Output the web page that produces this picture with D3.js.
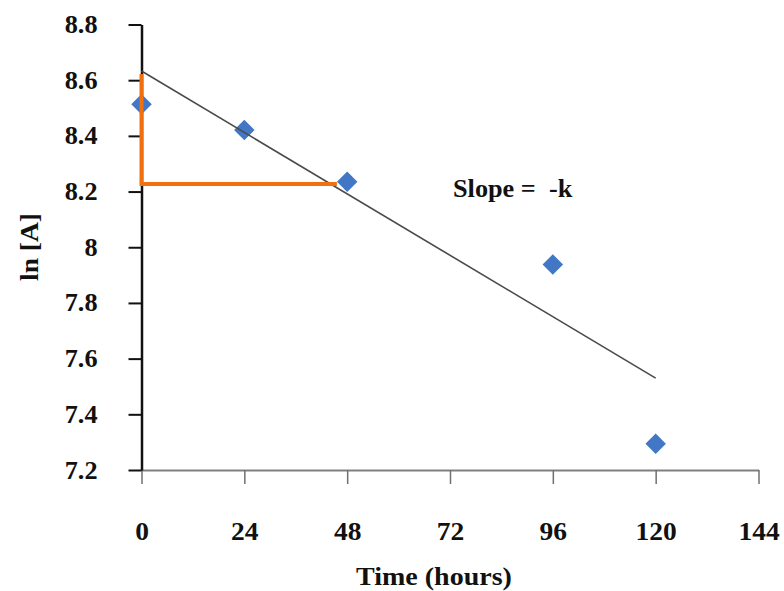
<!DOCTYPE html>
<html><head><meta charset="utf-8">
<script src="https://cdn.jsdelivr.net/npm/d3@7"></script>
<style>
html,body{margin:0;padding:0;background:#fff;}
text{font-family:"Liberation Serif","Times New Roman",serif;font-weight:bold;fill:#111;}
</style></head>
<body>
<svg id="c" width="784" height="591"></svg>
<script>
// Data
const hours = [0, 24, 48, 96, 120];
const lnA = [8.514, 8.421, 8.235, 7.938, 7.294];
const trendHours = [0, 120];
const trendLnA = [8.633, 7.530];
const triangleHours = [0, 0, 45.6];
const triangleLnA = [8.622, 8.227, 8.227];
const xTicks = [0, 24, 48, 72, 96, 120, 144];
const yTicks = [7.2, 7.4, 7.6, 7.8, 8.0, 8.2, 8.4, 8.6, 8.8];
const yTickLabels = ["7.2", "7.4", "7.6", "7.8", "8", "8.2", "8.4", "8.6", "8.8"];
const xTitle = "Time (hours)";
const yTitle = "ln [A]";
const note = "Slope =  -k";

const svg = d3.select("#c");
const L = 141.5, R = 758.5, T = 24.5, B = 470;
const x = d3.scaleLinear().domain([0, 144]).range([L, R]);
const y = d3.scaleLinear().domain([7.2, 8.8]).range([B, T]);

function stretch(sel, f) {
  sel.each(function () {
    const w = this.getComputedTextLength();
    d3.select(this).attr("textLength", w * f).attr("lengthAdjust", "spacingAndGlyphs");
  });
}

// X axis
const gx = svg.append("g").attr("transform", `translate(0,${B})`)
  .call(d3.axisBottom(x).tickValues(xTicks).tickSize(14).tickSizeOuter(0).tickFormat(d3.format("d")));
gx.select(".domain").attr("stroke", "#808080").attr("stroke-width", 2);
gx.selectAll(".tick line").attr("stroke", "#707070").attr("stroke-width", 1.5);
gx.selectAll(".tick text").attr("y", 0).attr("dy", 70).style("font-size", "25px")
  .style("font-family", "Liberation Serif").style("font-weight", "bold").attr("fill", "#111");
stretch(gx.selectAll(".tick text"), 1.1);

// Y axis
const gy = svg.append("g").attr("transform", `translate(${L},0)`)
  .call(d3.axisLeft(y).tickValues(yTicks).tickSize(13).tickPadding(31).tickSizeOuter(0)
    .tickFormat((d, i) => yTickLabels[i]));
gy.select(".domain").attr("stroke", "#111").attr("stroke-width", 2.5);
gy.selectAll(".tick line").attr("stroke", "#111").attr("stroke-width", 2);
gy.selectAll(".tick text").style("font-size", "25px")
  .style("font-family", "Liberation Serif").style("font-weight", "bold").attr("fill", "#111");
stretch(gy.selectAll(".tick text"), 1.05);

// Data points
const pts = hours.map((h, i) => ({ h, v: lnA[i] }));
svg.append("g").selectAll("path").data(pts).join("path")
  .attr("d", d3.symbol(d3.symbolSquare, 210))
  .attr("transform", d => `translate(${x(d.h)},${y(d.v)}) rotate(45)`)
  .attr("fill", "#4277c6");

// Trend line
const line = d3.line().x(d => x(d[0])).y(d => y(d[1]));
svg.append("path").datum(trendHours.map((h, i) => [h, trendLnA[i]]))
  .attr("d", line).attr("fill", "none").attr("stroke", "#4a4a4a").attr("stroke-width", 1.6);

// Orange triangle
svg.append("path").datum(triangleHours.map((h, i) => [h, triangleLnA[i]]))
  .attr("d", line).attr("fill", "none").attr("stroke", "#f07010").attr("stroke-width", 4)
  .attr("stroke-linejoin", "miter");

// Titles
const xt = svg.append("text").attr("x", (L + R) / 2 - 16).attr("y", 585)
  .attr("text-anchor", "middle").style("font-size", "25px").text(xTitle);
stretch(xt, 1.12);
const yt = svg.append("text").attr("transform", `translate(38,247) rotate(-90)`)
  .attr("text-anchor", "middle").style("font-size", "25px").text(yTitle);
stretch(yt, 1.1);
const nt = svg.append("text").attr("x", 453).attr("y", 197)
  .style("font-size", "25px").style("white-space", "pre").text(note);
stretch(nt, 1.05);
</script>
</body></html>
